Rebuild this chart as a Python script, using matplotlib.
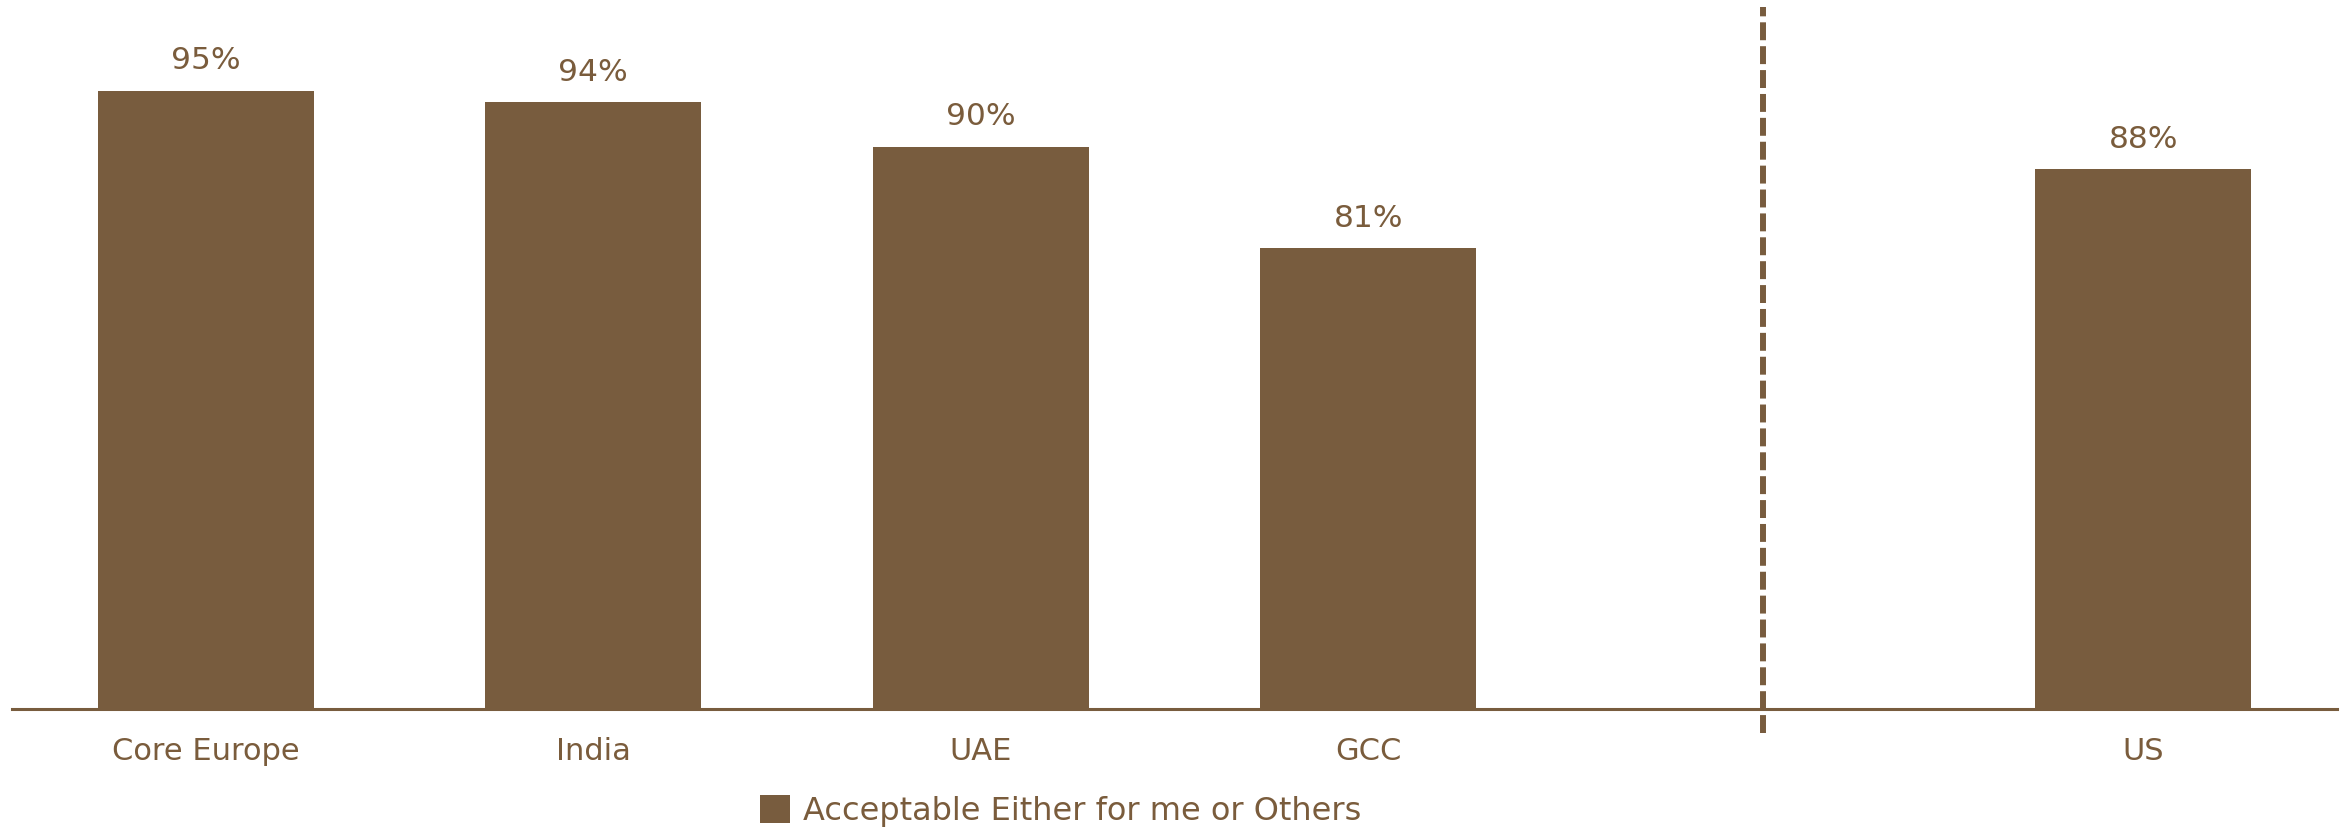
import matplotlib.pyplot as plt

categories = ["Core Europe", "India", "UAE", "GCC", "", "US"]
values = [95, 94, 90, 81, None, 88]
series_name = "Acceptable Either for me or Others"

brown = "#785C3E"
text_brown = "#7A5C3C"

fig = plt.figure(figsize=(23.49, 8.32), dpi=100)
ax = fig.add_axes([12 / 2349, 123 / 832, 2325 / 2349, 674.4 / 832])

xs = [i for i, v in enumerate(values) if v is not None]
vs = [v for v in values if v is not None]
bars = ax.bar(xs, vs, width=0.557, color=brown, label=series_name, zorder=2)

# value labels above bars
for x, v in zip(xs, vs):
    ax.annotate(f"{v}%", (x, v), xytext=(0, 15.5), textcoords="offset points",
                ha="center", va="baseline", fontsize=22.5, color=text_brown)

# dashed divider between the regions and the US
ax.axvline(4.02, ymin=-0.0356, ymax=1.041, color=brown, lw=4.3,
           linestyle=(0, (3, 1)), clip_on=False, zorder=3)

ax.set_xlim(-0.5, 5.5)
ax.set_ylim(40, 100)
ax.set_xticks(range(len(categories)))
ax.set_xticklabels(categories, fontsize=22, color=text_brown)
ax.tick_params(axis="x", length=0, pad=20)
ax.set_yticks([])
for side in ["top", "right", "left"]:
    ax.spines[side].set_visible(False)
ax.spines["bottom"].set_color(brown)
ax.spines["bottom"].set_linewidth(2.2)

leg = fig.legend(handles=[bars], labels=[series_name], loc="center left",
                 bbox_to_anchor=(760 / 2349, 21 / 832), frameon=False,
                 fontsize=23, handlelength=0.95, handleheight=0.95,
                 handletextpad=0.4, borderpad=0, borderaxespad=0)
for t in leg.get_texts():
    t.set_color(text_brown)

fig.savefig("out.png", dpi=100)
